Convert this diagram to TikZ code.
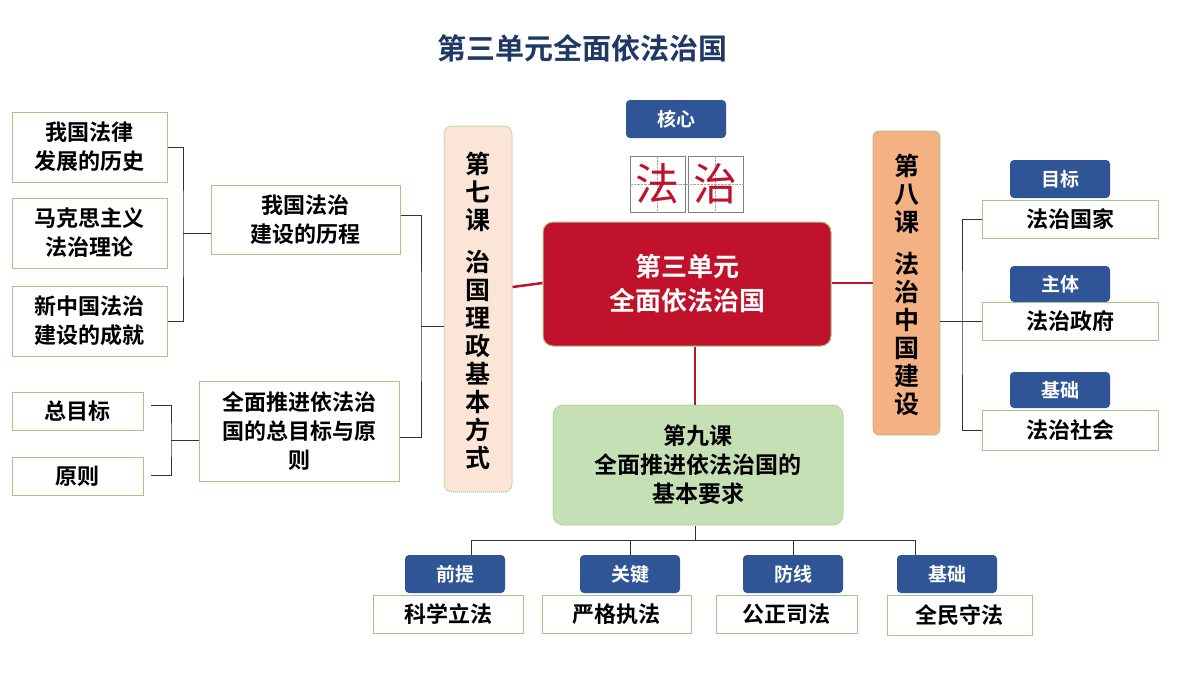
\documentclass[tikz,border=0pt]{standalone}
\usepackage{fontspec}
\setmainfont{Noto Sans CJK SC}[BoldFont={* Bold}]
\newfontfamily\cjk{Noto Sans CJK SC}[BoldFont={* Bold}]
\definecolor{dblue}{HTML}{2F5597}
\definecolor{tblue}{HTML}{1F3864}
\definecolor{dred}{HTML}{C0122A}
\definecolor{gborder}{HTML}{A9C48B}
\definecolor{peach}{HTML}{FBE5D6}
\definecolor{orangeb}{HTML}{F4B183}
\definecolor{lgreen}{HTML}{C5E0B4}
\begin{document}
\begin{tikzpicture}[x=1pt,y=-1pt,
  box/.style={draw=gborder,line width=1pt,fill=white,inner sep=0pt,font=\cjk\bfseries\fontsize{22}{29}\selectfont,align=center},
  tag/.style={fill=dblue,rounded corners=4pt,inner sep=0pt,text=white,font=\cjk\bfseries\fontsize{19}{22}\selectfont},
  ln/.style={line width=1pt,black!80},
  rl/.style={line width=2.5pt,dred}]
\useasboundingbox (0,0) rectangle (1200,675);
\fill[white] (0,0) rectangle (1200,675);
\node[text=tblue,font=\cjk\bfseries\fontsize{29}{32}\selectfont] (title) at (582,48) {第三单元全面依法治国};
% left boxes
\node[box,minimum width=155pt,minimum height=70pt] (a1) at (89.5,147) {我国法律\\发展的历史};
\node[box,minimum width=155pt,minimum height=70pt] (a2) at (89.5,233) {马克思主义\\法治理论};
\node[box,minimum width=155pt,minimum height=70pt] (a3) at (89.5,321) {新中国法治\\建设的成就};
\node[box,minimum width=131pt,minimum height=38pt] (b1) at (77.5,411) {总目标};
\node[box,minimum width=131pt,minimum height=38pt] (b2) at (77.5,476) {原则};
\node[box,minimum width=189pt,minimum height=69pt] (c1) at (305.5,219.5) {我国法治\\建设的历程};
\node[box,minimum width=200pt,minimum height=100pt] (c2) at (299,431) {全面推进依法治\\国的总目标与原\\则};
\coordinate (k1) at (183,233);
\draw[ln] (a1.east|-0,147) -| (k1) |- (a3.east|-0,321);
\draw[ln] (k1) -- (c1.west|-k1);
\coordinate (k2) at (171,440);
\draw[ln] (151,405) -| (k2) |- (151,475);
\draw[ln] (k2) -- (c2.west|-k2);
\coordinate (k3) at (421,326);
\draw[ln] (c1.east|-0,215) -| (k3) |- (c2.east|-0,437);
% lesson 7
\node[draw=gborder,densely dotted,line width=1pt,fill=peach,rounded corners=8pt,minimum width=68pt,minimum height=366pt,inner sep=0pt] (l7) at (478,309) {};
\draw[ln] (k3) -- (l7.west|-k3);
\node[font=\cjk\bfseries\fontsize{25}{28}\selectfont,align=center] (l7t) at (478,311) {第\\七\\课\\[14pt]治\\国\\理\\政\\基\\本\\方\\式};
% core
\node[tag,minimum width=100pt,minimum height=38pt] (core) at (676,119) {核心};
\node[draw=gray,line width=0.8pt,minimum width=55pt,minimum height=56pt,inner sep=0pt] (g1) at (657.5,184) {};
\node[draw=gray,line width=0.8pt,minimum width=55pt,minimum height=56pt,inner sep=0pt] (g2) at (715.5,184) {};
\draw[gray!70,densely dotted] (g1.west)--(g2.east) (g1.north)--(g1.south) (g2.north)--(g2.south);
\node[text=dred,font=\cjk\fontsize{44}{46}\selectfont] (f1) at (g1) {法};
\node[text=dred,font=\cjk\fontsize{44}{46}\selectfont] (f2) at (g2) {治};
% center
\node[fill=dred,draw=gborder,line width=1pt,rounded corners=10pt,minimum width=288pt,minimum height=124pt,text=white,font=\cjk\bfseries\fontsize{26}{34}\selectfont,align=center] (ctr) at (687,284) {第三单元\\全面依法治国};
\draw[rl] (l7.east|-0,287) -- (ctr.west|-0,283);
% lesson 8
\node[fill=orangeb,draw=gborder,line width=0.8pt,rounded corners=6pt,minimum width=67pt,minimum height=304pt,inner sep=0pt] (l8) at (906.5,283) {};
\node[font=\cjk\bfseries\fontsize{25}{28}\selectfont,align=center] (l8t) at (906.5,285) {第\\八\\课\\[14pt]法\\治\\中\\国\\建\\设};
\draw[rl] (ctr.east|-0,283) -- (l8.west|-0,283);
\node[tag,minimum width=100pt,minimum height=38pt] (t1) at (1060,179) {目标};
\node[box,minimum width=176pt,minimum height=38pt] (r1) at (1070,219) {法治国家};
\node[tag,minimum width=100pt,minimum height=36pt] (t2) at (1060,284) {主体};
\node[box,minimum width=176pt,minimum height=38pt] (r2) at (1070,321) {法治政府};
\node[tag,minimum width=100pt,minimum height=36pt] (t3) at (1060,390) {基础};
\node[box,minimum width=176pt,minimum height=40pt] (r3) at (1070,430) {法治社会};
\coordinate (k4) at (962,321);
\draw[ln] (r1.west) -| (k4) |- (r3.west);
\draw[ln] (l8.east|-k4) -- (r2.west);
% lesson 9
\node[draw=gborder,densely dotted,line width=1pt,fill=lgreen,rounded corners=10pt,minimum width=290pt,minimum height=120pt,font=\cjk\bfseries\fontsize{23}{29}\selectfont,align=center] (l9) at (698,465) {第九课\\全面推进依法治国的\\基本要求};
\draw[rl] (ctr.south-|695,0) -- (l9.north-|695,0);
\node[tag,minimum width=100pt,minimum height=38pt] (p1) at (455,574) {前提};
\node[tag,minimum width=100pt,minimum height=38pt] (p2) at (630,574) {关键};
\node[tag,minimum width=100pt,minimum height=38pt] (p3) at (793,574) {防线};
\node[tag,minimum width=100pt,minimum height=38pt] (p4) at (947,574) {基础};
\node[box,minimum width=150pt,minimum height=38pt] (q1) at (448,614) {科学立法};
\node[box,minimum width=149pt,minimum height=38pt] (q2) at (616.5,614) {严格执法};
\node[box,minimum width=141pt,minimum height=38pt] (q3) at (786.5,614) {公正司法};
\node[box,minimum width=145pt,minimum height=40pt] (q4) at (959.5,615) {全民守法};
\coordinate (k5) at (695,540);
\draw[ln] (l9.south-|k5) -- (k5);
\draw[ln] (471,555) |- (915,540) -- (915,555);
\draw[ln] (630,540) -- (630,555) (793,540) -- (793,555);
\end{tikzpicture}
\end{document}
